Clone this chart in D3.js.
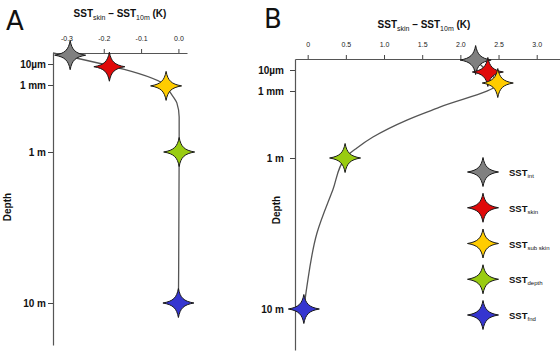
<!DOCTYPE html>
<html><head><meta charset="utf-8">
<script src="https://cdn.jsdelivr.net/npm/d3@7"></script>
<style>
body{margin:0;background:#fff;}
svg{display:block;font-family:"Liberation Sans",Arial,sans-serif;}
</style></head>
<body><svg id="c" width="560" height="357"></svg>
<script>
// ---- data ----
const seriesNames = ["int","skin","subskin","depth","fnd"];
const seriesLabels = ["int","skin","sub skin","depth","fnd"];
const seriesColors = ["#808080","#e00a0a","#ffcc00","#99cc11","#3535d0"];
const depthTickExp = [-5,-3,0,1];
const depthTickLabels = ["10µm","1 mm","1 m","10 m"];
// panel A stars
const aStarValues = [-0.290,-0.185,-0.033,0.002,0.0];
const aStarDepth  = [-5.84,-4.74,-2.96,0,1];
// panel A profile line
const aLineValues = [-0.336,-0.033,-0.023,-0.004,0.002,0.002,0.002,0.0];
const aLineDepth  = [-6.05,-2.96,-2.69,-2.19,-1.57,-0.67,0,1];
const aTicks = [-0.3,-0.2,-0.1,0.0];
// panel B stars
const bStarValues = [2.20,2.36,2.49,0.49,-0.05];
const bStarDepth  = [-5.95,-4.81,-3.76,0,1];
// panel B profile line
const bLineValues = [2.20,2.36,2.49,1.73,1.30,0.855,0.645,0.49,0.33,0.12,-0.01,-0.05];
const bLineDepth  = [-5.95,-4.81,-3.76,-2.28,-1.70,-0.94,-0.45,0,0.21,0.50,0.85,1];
const bTicks = [0,0.5,1.0,1.5,2.0,2.5,3.0];

const svg = d3.select("#c");

// 4-point star symbol
const starType = {
  draw(ctx, size){
    const rx = 15.5, ry = 14.5, a = 1.8, b = 5.2;
    ctx.moveTo(0,-ry);
    ctx.bezierCurveTo(a,-b, b,-a, rx,0);
    ctx.bezierCurveTo(b,a, a,b, 0,ry);
    ctx.bezierCurveTo(-a,b, -b,a, -rx,0);
    ctx.bezierCurveTo(-b,-a, -a,-b, 0,-ry);
    ctx.closePath();
  }
};
const star = d3.symbol().type(starType);

function panel(opt){
  const g = svg.append("g");
  const x = d3.scaleLinear().domain(opt.xDomain).range(opt.xRange);
  const y = d3.scaleLinear().domain([-6.05,-5,-3,0,1,1.28]).range(opt.yRange);

  const ax = g.append("g").attr("transform",`translate(0,${opt.yRange[0]})`)
    .call(d3.axisTop(x).tickValues(opt.ticks).tickSize(4).tickPadding(8).tickSizeOuter(0)
      .tickFormat(d => d===0 && opt.zeroPlain ? "0" : d.toFixed(1)));
  ax.selectAll("text").attr("font-size",7).attr("fill","#222").attr("font-family","Liberation Sans, Arial, sans-serif");

  const ay = g.append("g").attr("transform",`translate(${opt.xRange[0]},0)`)
    .call(d3.axisLeft(y).tickValues(depthTickExp).tickSize(5).tickPadding(opt.yPad).tickSizeOuter(0)
      .tickFormat((d,i)=>depthTickLabels[i]));
  ay.selectAll("text").attr("font-size",10).attr("font-weight","bold").attr("fill","#111").attr("font-family","Liberation Sans, Arial, sans-serif");
  g.selectAll(".domain").attr("stroke","#555").attr("stroke-width",1.2);
  g.selectAll(".tick line").attr("stroke","#444");

  const line = d3.line().x(d=>x(d[0])).y(d=>y(d[1])).curve(d3.curveMonotoneY);
  g.append("path").datum(opt.lineV.map((v,i)=>[v,opt.lineD[i]]))
    .attr("d",line).attr("fill","none").attr("stroke","#555").attr("stroke-width",1.3);

  g.selectAll(".star").data(opt.starV.map((v,i)=>({v,d:opt.starD[i],c:seriesColors[i]})))
    .join("path").attr("class","star")
    .attr("transform",d=>`translate(${x(d.v)},${y(d.d)})`)
    .attr("d",star()).attr("fill",d=>d.c).attr("stroke","#1a1a1a").attr("stroke-width",1);

  // title
  const t = g.append("text").attr("x",opt.titleX).attr("y",opt.titleY).attr("text-anchor","middle")
    .attr("font-weight","bold").attr("font-size",10).attr("fill","#111");
  t.append("tspan").text("SST");
  t.append("tspan").attr("font-size",7).attr("font-weight","normal").attr("dy",3).text("skin");
  t.append("tspan").attr("dy",-3).text(" – SST");
  t.append("tspan").attr("font-size",7).attr("font-weight","normal").attr("dy",3).text("10m");
  t.append("tspan").attr("dy",-3).text(opt.kSpace + "(K)");

  // depth label
  g.append("text").attr("transform",`translate(${opt.depthX},${opt.depthY}) rotate(-90)`)
    .attr("text-anchor","middle").attr("font-weight","bold").attr("font-size",10).attr("fill","#111").text("Depth");

  // panel letter
  g.append("text").attr("x",opt.letterX).attr("y",opt.letterY).attr("font-family","DejaVu Sans, sans-serif")
    .attr("font-size",26).attr("fill","#111").text(opt.letter);
}

panel({xDomain:[-0.336,0.023], xRange:[53,187], yRange:[53,64,85,152,303,345],
  ticks:aTicks, zeroPlain:false, yPad:2,
  lineV:aLineValues, lineD:aLineDepth, starV:aStarValues, starD:aStarDepth,
  titleX:120, titleY:17, kSpace:"  ", depthX:11, depthY:207, letterX:6, letterY:30, letter:"A"});

panel({xDomain:[-0.166,3.305], xRange:[295,560], yRange:[59,70,91,158,309,350],
  ticks:bTicks, zeroPlain:true, yPad:6,
  lineV:bLineValues, lineD:bLineDepth, starV:bStarValues, starD:bStarDepth,
  titleX:424, titleY:28, kSpace:" ", depthX:280, depthY:210, letterX:264, letterY:28, letter:"B"});

// legend
const lg = svg.append("g");
const ly = d3.scalePoint().domain(seriesNames).range([172,315]);
const items = lg.selectAll("g").data(seriesNames).join("g")
  .attr("transform",d=>`translate(483,${ly(d)})`);
items.append("path").attr("d",star()).attr("fill",(d,i)=>seriesColors[i]).attr("stroke","#1a1a1a").attr("stroke-width",1);
const lt = items.append("text").attr("x",26).attr("y",4).attr("font-weight","bold").attr("font-size",9.5).attr("fill","#111");
lt.append("tspan").text("SST");
lt.append("tspan").attr("font-size",6).attr("font-weight","normal").attr("dy",2).text((d,i)=>seriesLabels[i]);
</script>
</body></html>
